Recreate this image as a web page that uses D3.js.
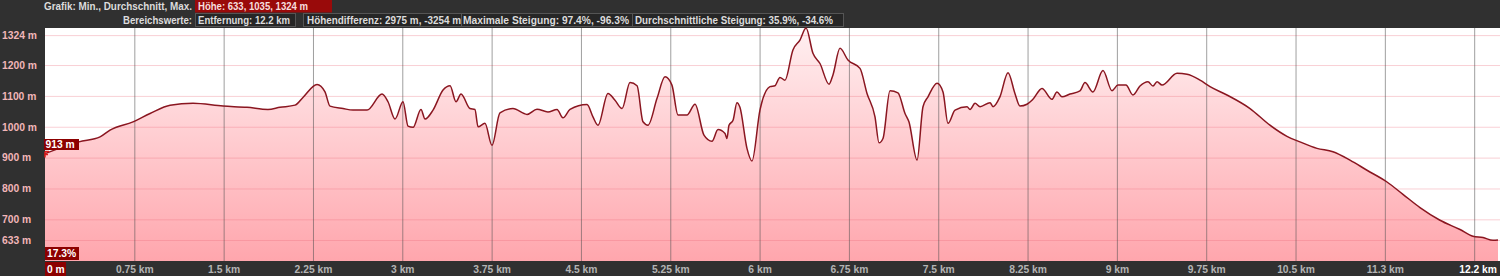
<!DOCTYPE html>
<html>
<head>
<meta charset="utf-8">
<script src="https://cdn.jsdelivr.net/npm/d3@7"></script>
<style>
  body { margin: 0; background: #303030; }
  svg { display: block; font-family: "Liberation Sans", Arial, sans-serif; font-weight: bold; }
</style>
</head>
<body>
<div id="chart"></div>
<script>
// Höhenprofil: Entfernung (km) / Höhe (m)
const distKm = [0, 0.285, 0.462, 0.546, 0.739, 0.882, 1.050, 1.243, 1.495, 1.696,
  1.872, 1.973, 2.099, 2.166, 2.284, 2.351, 2.393, 2.502, 2.586, 2.704,
  2.830, 2.880, 2.939, 3.006, 3.048, 3.090, 3.157, 3.191, 3.258, 3.342,
  3.401, 3.451, 3.493, 3.568, 3.610, 3.636, 3.694, 3.753, 3.820, 3.929,
  4.047, 4.131, 4.223, 4.299, 4.349, 4.408, 4.551, 4.601, 4.643, 4.727,
  4.786, 4.845, 4.912, 4.971, 5.021, 5.063, 5.139, 5.206, 5.264, 5.315,
  5.390, 5.458, 5.533, 5.600, 5.651, 5.710, 5.726, 5.743, 5.777, 5.810,
  5.835, 5.894, 5.936, 6.003, 6.087, 6.129, 6.171, 6.213, 6.280, 6.339,
  6.390, 6.448, 6.507, 6.583, 6.616, 6.675, 6.742, 6.843, 6.902, 6.969,
  7.003, 7.036, 7.095, 7.162, 7.221, 7.254, 7.322, 7.372, 7.414, 7.490,
  7.540, 7.582, 7.641, 7.742, 7.767, 7.809, 7.851, 7.935, 7.960, 8.018,
  8.086, 8.144, 8.186, 8.245, 8.295, 8.371, 8.455, 8.497, 8.539, 8.606,
  8.690, 8.732, 8.799, 8.883, 8.959, 9.009, 9.076, 9.135, 9.194, 9.261,
  9.303, 9.337, 9.379, 9.505, 9.589, 9.698, 9.782, 9.924, 10.118, 10.285,
  10.428, 10.537, 10.680, 10.814, 10.957, 11.100, 11.268, 11.402, 11.545, 11.713,
  11.881, 11.990, 12.074, 12.158, 12.2];

const elevM = [913, 951, 967, 989, 1016, 1043, 1070, 1076, 1067, 1063,
  1056, 1063, 1070, 1095, 1137, 1113, 1067, 1059, 1054, 1054,
  1106, 1081, 1025, 1081, 1002, 998, 1056, 1025, 1054, 1119,
  1133, 1081, 1106, 1059, 1056, 1000, 1011, 940, 1045, 1059,
  1040, 1057, 1048, 1056, 1029, 1056, 1072, 1032, 1005, 1108,
  1086, 1059, 1143, 1133, 1016, 1005, 1092, 1162, 1135, 1038,
  1038, 1073, 973, 953, 991, 978, 962, 1005, 1021, 1078,
  1063, 930, 889, 1054, 1130, 1133, 1160, 1151, 1249, 1281,
  1320, 1238, 1205, 1138, 1168, 1254, 1216, 1189, 1108, 1032,
  948, 962, 1117, 1110, 1043, 1016, 892, 1065, 1097, 1141,
  1113, 1011, 1054, 1065, 1056, 1076, 1065, 1078, 1065, 1097,
  1175, 1108, 1067, 1073, 1089, 1124, 1089, 1113, 1097, 1106,
  1116, 1143, 1113, 1182, 1117, 1135, 1135, 1103, 1132, 1146,
  1132, 1146, 1135, 1173, 1170, 1151, 1130, 1103, 1059, 1005,
  969, 951, 930, 919, 892, 859, 821, 781, 738, 697,
  667, 645, 641, 632, 633];

// Achsen
const yTickValues = [633, 700, 800, 900, 1000, 1100, 1200, 1297];
const yTickLabels = ["633 m", "700 m", "800 m", "900 m", "1000 m", "1100 m", "1200 m", "1324 m"];
const xTickValues = [0.75, 1.5, 2.25, 3, 3.75, 4.5, 5.25, 6, 6.75, 7.5, 8.25, 9, 9.75, 10.5, 11.25, 12];
const xTickLabels = ["0.75 km", "1.5 km", "2.25 km", "3 km", "3.75 km", "4.5 km", "5.25 km", "6 km",
  "6.75 km", "7.5 km", "8.25 km", "9 km", "9.75 km", "10.5 km", "11.3 km", ""];

// Kopfzeilen
const graphLabel = "Grafik: Min., Durchschnitt, Max.";
const graphValue = "Höhe: 633, 1035, 1324 m";
const rangeLabel = "Bereichswerte:";
const rangeStats = ["Entfernung: 12.2 km", "Höhendifferenz: 2975 m, -3254 m",
  "Maximale Steigung: 97.4%, -96.3%", "Durchschnittliche Steigung: 35.9%, -34.6%"];
const startLabel = "913 m";
const slopeLabel = "17.3%";
const startDist = "0 m";
const endDist = "12.2 km";

const width = 1500, height = 276;
const margin = { top: 28, right: 0, bottom: 15, left: 45 };
const fs = "10.3px";

const svg = d3.select('#chart').append('svg')
  .attr('width', width)
  .attr('height', height);

svg.append('rect').attr('width', width).attr('height', height).attr('fill', '#303030');

const x = d3.scaleLinear().domain([0, 12.2]).range([margin.left, 1498]);
const y = d3.scaleLinear().domain([565, 1320]).range([height - margin.bottom, margin.top]);

const points = distKm.map((d, i) => ({ km: d, m: elevM[i] }));

// Zeichenfläche
svg.append('rect')
  .attr('x', margin.left).attr('y', margin.top)
  .attr('width', width - margin.left).attr('height', height - margin.bottom - margin.top)
  .attr('fill', '#ffffff');

const grad = svg.append('defs').append('linearGradient')
  .attr('id', 'fillGrad')
  .attr('gradientUnits', 'userSpaceOnUse')
  .attr('x1', 0).attr('x2', 0)
  .attr('y1', margin.top).attr('y2', height - margin.bottom);
grad.append('stop').attr('offset', '0%').attr('stop-color', '#fff0f1');
grad.append('stop').attr('offset', '100%').attr('stop-color', '#ffa6ad');

const area = d3.area()
  .x(d => x(d.km))
  .y0(height - margin.bottom)
  .y1(d => y(d.m))
  .curve(d3.curveMonotoneX);

svg.append('path').datum(points)
  .attr('d', area)
  .attr('fill', 'url(#fillGrad)');

// Gitter
const gridY = svg.append('g')
  .attr('transform', `translate(${margin.left},0)`)
  .call(d3.axisLeft(y).tickValues(yTickValues).tickSize(-(width - margin.left)).tickFormat(''));
gridY.select('.domain').remove();
gridY.selectAll('line').attr('stroke', 'rgba(235,110,125,0.32)').attr('stroke-width', 1);

const gridX = svg.append('g')
  .attr('transform', `translate(0,${margin.top})`)
  .call(d3.axisBottom(x).tickValues(xTickValues).tickSize(height - margin.bottom - margin.top).tickFormat(''));
gridX.select('.domain').remove();
gridX.selectAll('line').attr('stroke', 'rgba(80,80,80,0.55)').attr('stroke-width', 1);

// Profil-Linie
const line = d3.line()
  .x(d => x(d.km))
  .y(d => y(d.m))
  .curve(d3.curveMonotoneX);

svg.append('path').datum(points)
  .attr('d', line)
  .attr('fill', 'none')
  .attr('stroke', '#8a1620')
  .attr('stroke-width', 1.5)
  .attr('stroke-linejoin', 'round');

// y Beschriftung
const yAxis = svg.append('g')
  .call(d3.axisLeft(y).tickValues(yTickValues).tickSize(0)
    .tickFormat((d, i) => yTickLabels[i]));
yAxis.select('.domain').remove();
yAxis.selectAll('text')
  .attr('x', 2)
  .attr('text-anchor', 'start')
  .attr('fill', '#f2b6b8')
  .style('font-size', fs)
  .style('font-family', '"Liberation Sans", Arial, sans-serif')
  .style('font-weight', 'bold');

// x Beschriftung
const xAxis = svg.append('g')
  .attr('transform', `translate(0,${height - margin.bottom})`)
  .call(d3.axisBottom(x).tickValues(xTickValues).tickSize(0)
    .tickFormat((d, i) => xTickLabels[i]));
xAxis.select('.domain').remove();
xAxis.selectAll('text')
  .attr('y', 0).attr('dy', '11.5px')
  .attr('fill', '#b4b4b4')
  .style('font-size', fs)
  .style('font-family', '"Liberation Sans", Arial, sans-serif')
  .style('font-weight', 'bold');

// Startmarker
svg.append('rect').attr('x', x(0)).attr('y', height - margin.bottom + 1)
  .attr('width', 21).attr('height', 14).attr('fill', '#8c0000');
svg.append('text').attr('x', x(0) + 2).attr('y', 272.5)
  .attr('fill', '#ffffff').style('font-size', fs).text(startDist);
svg.append('text').attr('x', 1497).attr('y', 272.5)
  .attr('text-anchor', 'end').attr('fill', '#ffffff').style('font-size', fs).text(endDist);

svg.append('rect').attr('x', 44).attr('y', 139).attr('width', 35).attr('height', 11).attr('fill', '#8c0000');
svg.append('text').attr('x', 45.5).attr('y', 148).attr('fill', '#ffffff').style('font-size', fs).text(startLabel);
svg.append('path')
  .attr('d', `M${x(0)},${y(elevM[0]) - 2}v6M${x(0)},${y(elevM[0]) - 2}h4M${x(0)},${y(elevM[0]) + 1}h3`)
  .attr('stroke', '#e01818').attr('stroke-width', 1.5).attr('fill', 'none');

svg.append('rect').attr('x', 45).attr('y', 247).attr('width', 34).attr('height', 13).attr('fill', '#8c0000');
svg.append('text').attr('x', 47).attr('y', 257).attr('fill', '#ffffff').style('font-size', fs).text(slopeLabel);

// Kopfzeile 1
svg.append('text').attr('x', 192).attr('y', 9.5).attr('text-anchor', 'end')
  .attr('fill', '#dcdcdc').style('font-size', fs)
  .attr('textLength', 148).attr('lengthAdjust', 'spacingAndGlyphs').text(graphLabel);
svg.append('rect').attr('x', 195).attr('y', 0).attr('width', 137).attr('height', 12.5).attr('fill', '#990a0a');
svg.append('text').attr('x', 198).attr('y', 9.5)
  .attr('fill', '#f6dede').style('font-size', fs)
  .attr('textLength', 110).attr('lengthAdjust', 'spacingAndGlyphs').text(graphValue);

// Kopfzeile 2
svg.append('text').attr('x', 192).attr('y', 23.5).attr('text-anchor', 'end')
  .attr('fill', '#dcdcdc').style('font-size', fs)
  .attr('textLength', 69).attr('lengthAdjust', 'spacingAndGlyphs').text(rangeLabel);

const boxX = [195, 303, 461, 632];
const boxW = [100, 158, 171, 211];
const textX = [198, 307, 463, 635];
const textW = [92, 154, 166, 198];

svg.selectAll('.stat-box').data(rangeStats)
  .join('rect')
  .attr('class', 'stat-box')
  .attr('x', (d, i) => boxX[i] + 0.5)
  .attr('y', 13.5)
  .attr('width', (d, i) => boxW[i])
  .attr('height', 13)
  .attr('fill', '#262626')
  .attr('stroke', '#555555')
  .attr('stroke-width', 1);

svg.selectAll('.stat-text').data(rangeStats)
  .join('text')
  .attr('class', 'stat-text')
  .attr('x', (d, i) => textX[i])
  .attr('y', 23.5)
  .attr('fill', '#dcdcdc')
  .style('font-size', fs)
  .attr('textLength', (d, i) => textW[i])
  .attr('lengthAdjust', 'spacingAndGlyphs')
  .text(d => d);
</script>
</body>
</html>
